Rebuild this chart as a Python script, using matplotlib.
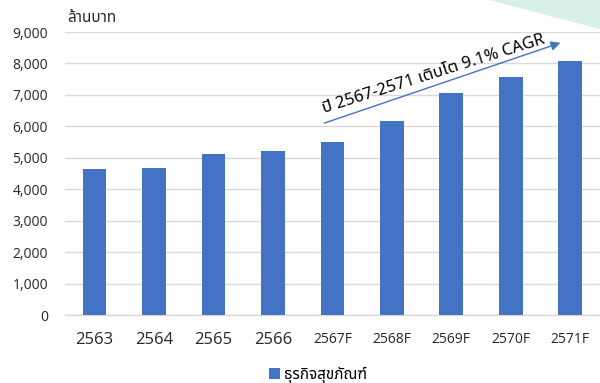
import matplotlib
matplotlib.use('Agg')
import matplotlib.pyplot as plt
from matplotlib import font_manager
from matplotlib.patches import Polygon
import numpy as np

# data (ล้านบาท)
years = ['2563', '2564', '2565', '2566', '2567F', '2568F', '2569F', '2570F', '2571F']
sales = [4650, 4665, 5110, 5225, 5510, 6170, 7050, 7560, 8090]
series_name = 'ธุรกิจสุขภัณฑ์'
unit_label = 'ล้านบาท'
note_text = 'ปี 2567-2571 เติบโต 9.1% CAGR'

BAR_COLOR = '#4472C4'
GRID_COLOR = '#d9d9d9'
TEXT_COLOR = '#262626'

installed = {f.name for f in font_manager.fontManager.ttflist}
thai_font = next((n for n in ['Noto Sans Thai', 'Noto Sans Thai UI', 'Sarabun', 'Loma',
                              'Garuda', 'Anuphan'] if n in installed), 'DejaVu Sans')
THAI = [thai_font, 'Open Sans', 'DejaVu Sans']
NUM = ['Open Sans', 'DejaVu Sans']

fig = plt.figure(figsize=(6, 3.83), dpi=100)
fig.patch.set_facecolor('white')
fig.patches.append(Polygon([(0.815, 1.0), (1.0, 1.0), (1.0, 0.925)], closed=True,
                           transform=fig.transFigure, facecolor='#d8f0ea',
                           edgecolor='none', zorder=0))

ax = fig.add_axes([0.108, 0.1775, 0.892, 0.7389])
ax.set_facecolor('none')
x = np.arange(len(years))
ax.bar(x, sales, width=0.4, color=BAR_COLOR, zorder=3, label=series_name)

ax.set_xlim(-0.5, 8.5)
ax.set_ylim(0, 9000)
ax.set_yticks(np.arange(0, 9001, 1000))
ax.set_yticklabels([f'{v:,}' for v in range(0, 9001, 1000)], family=NUM,
                   fontsize=10, color=TEXT_COLOR)
ax.set_xticks(x)
ax.set_xticklabels(years, family=NUM, color=TEXT_COLOR)
for lbl, yr in zip(ax.get_xticklabels(), years):
    lbl.set_fontsize(10 if yr.endswith('F') else 12)
ax.tick_params(axis='x', length=0, pad=12)
ax.tick_params(axis='y', length=0, pad=12)

ax.grid(axis='y', color=GRID_COLOR, linewidth=1, zorder=0)
for s in ['top', 'right', 'left']:
    ax.spines[s].set_visible(False)
ax.spines['bottom'].set_color(GRID_COLOR)
ax.spines['bottom'].set_linewidth(1)

ax.text(0.004, 1.02, unit_label, transform=ax.transAxes, family=THAI,
        fontsize=11, color=TEXT_COLOR, ha='left', va='bottom')

# growth arrow with note
ax.annotate('', xy=(0.931, 0.965), xytext=(0.48, 0.675), xycoords='axes fraction',
            arrowprops=dict(arrowstyle='-|>', color=BAR_COLOR, lw=1,
                            mutation_scale=14))
ax.text(0.69, 0.85, note_text, transform=ax.transAxes, family=THAI,
        fontsize=12, color='black', rotation=17.5, ha='center', va='center',
        rotation_mode='anchor')

fig.legend(loc='lower center', bbox_to_anchor=(0.53, -0.035), frameon=False,
           prop={'family': THAI, 'size': 11}, handlelength=0.7, handleheight=0.7,
           handletextpad=0.3)

fig.savefig('out.png', dpi=100)
